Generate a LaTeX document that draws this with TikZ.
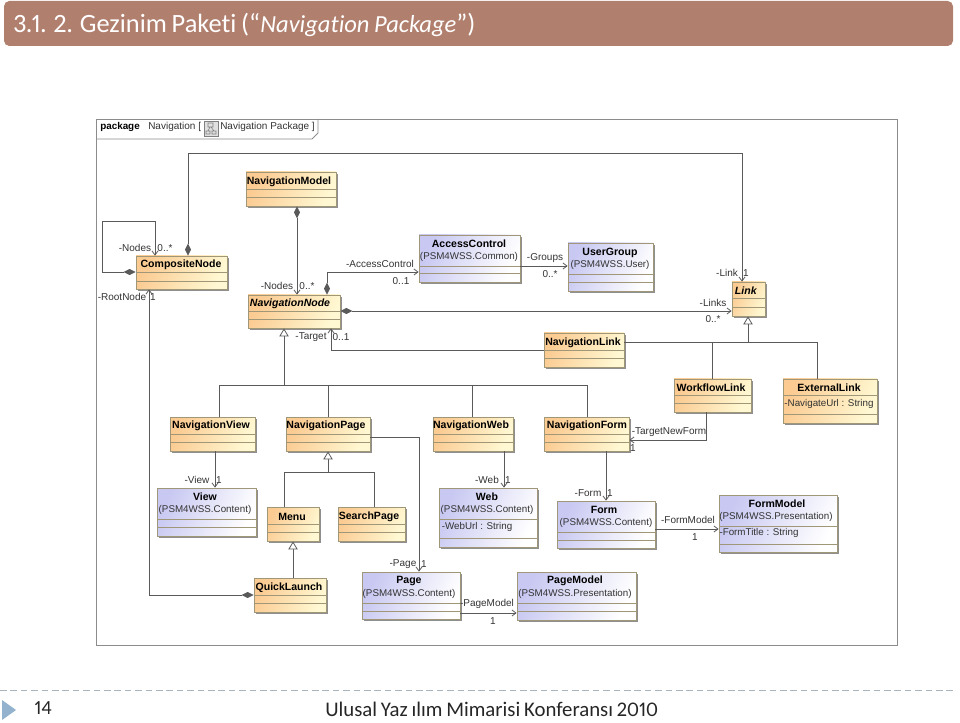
\documentclass[tikz,border=0pt]{standalone}
\usepackage{fontspec}
\setmainfont{Liberation Sans}
\newfontfamily\slidefont[Ligatures=NoCommon,WordSpace=.8,Numbers=Proportional]{Carlito}
\usetikzlibrary{calc,fit,arrows.meta,shadows}
\definecolor{barcolor}{HTML}{B17F6E}
\definecolor{linecolor}{HTML}{5A5A5A}
\definecolor{edgecolor}{HTML}{A09678}
\definecolor{orangecolor}{HTML}{FBCB92}
\definecolor{creamcolor}{HTML}{FFF8D2}
\definecolor{bluecolor}{HTML}{C8C8F2}
\definecolor{footercolor}{HTML}{92B2CE}
\definecolor{dashcolor}{HTML}{A9B4BC}
\tikzset{
  orangeclass/.style={draw=edgecolor,line width=.6pt,inner sep=0pt,left color=orangecolor,right color=creamcolor,shading angle=65,drop shadow={shadow xshift=1.2pt,shadow yshift=-1.2pt,fill=black!55,opacity=.8}},
  blueclass/.style={draw=edgecolor,line width=.6pt,inner sep=0pt,left color=bluecolor,right color=white,shading angle=65,drop shadow={shadow xshift=1.2pt,shadow yshift=-1.2pt,fill=black!55,opacity=.8}},
  classtitle/.style={inner sep=0pt,yshift=-.6pt,font=\fontsize{7.9}{9}\selectfont\bfseries,text=black},
  classtext/.style={inner sep=0pt,font=\fontsize{7.35}{9}\selectfont,text=black!80},
  lbl/.style={inner sep=0pt,font=\fontsize{7.5}{9}\selectfont,text=black!80},
  conn/.style={draw=linecolor,line width=.6pt},
  assoc/.style={conn,-{Straight Barb[length=3pt,width=4.5pt]}},
  compo/.style={conn,{Diamond[length=9pt,width=4.5pt,fill=linecolor]}-{Straight Barb[length=3pt,width=4.5pt]}},
  inherit/.style={conn,{Triangle[open,length=6pt,width=7pt,fill=white]}-}
}
% box with two compartment lines: name, x0, y0, x1, y1, line, line, style
\newcommand{\classbox}[8]{
  \node[#8,fit={(#2,#3) (#4,#5)}] (#1) {};
  \draw[edgecolor,line width=.5pt] (#2,#6) -- (#4,#6) (#2,#7) -- (#4,#7);
}
\begin{document}
\begin{tikzpicture}[x=.75pt,y=-.75pt]
  \useasboundingbox (0,0) rectangle (960,723);
  % title bar
  \fill[barcolor,rounded corners=4pt] (4,1) rectangle (953,46);
  \node[anchor=west,inner sep=0pt,text=white,font=\slidefont\fontsize{19.8}{22}\selectfont] (Title) at (13,25) {3.1. 2. Gezinim Paketi (“{\fontsize{18.4}{22}\selectfont\itshape Navigation Package}”)};
  % package frame
  \draw[black!45,line width=.7pt] (96,119) rectangle (897,645);
  \draw[black!45,line width=.6pt] (96,139) -- (312,139) -- (318,133) -- (318,119);
  \node[anchor=west,inner sep=0pt,font=\fontsize{7.4}{9}\selectfont\bfseries] (FrameKind) at (100,127) {package};
  \node[anchor=west,lbl] (FrameName) at (148,127) {Navigation [};
  \node[anchor=west,lbl] (FrameDiagram) at (220,127) {Navigation Package ]};
  \draw[black!50,fill=black!12,line width=.5pt] (204,121) rectangle (218,136);
  \draw[black!50,line width=.4pt] (208,123) rectangle (213,127) (206,131) rectangle (210,134) (212,131) rectangle (216,134) (210,127) -- (208,131) (211,127) -- (214,131);
  % top row
  \classbox{NavigationModel}{246}{172}{336}{206}{189}{197}{orangeclass}
  \classbox{CompositeNode}{136}{256}{227}{289}{272}{281}{orangeclass}
  \classbox{NavigationNode}{248}{295}{340}{328}{311}{319}{orangeclass}
  \classbox{AccessControl}{419}{235}{520}{282}{266}{273}{blueclass}
  \classbox{UserGroup}{568}{243}{653}{291}{274}{282}{blueclass}
  \classbox{Link}{732}{282}{765}{316}{298}{307}{orangeclass}
  % link classes
  \classbox{NavigationLink}{544}{333}{624}{367}{350}{358}{orangeclass}
  \classbox{WorkflowLink}{674}{379}{751}{412}{395}{403}{orangeclass}
  \classbox{ExternalLink}{783}{379}{877}{423}{395}{414}{orangeclass}
  % navigation classes
  \classbox{NavigationView}{170}{417}{255}{451}{434}{442}{orangeclass}
  \classbox{NavigationPage}{286}{417}{370}{451}{434}{442}{orangeclass}
  \classbox{NavigationWeb}{433}{417}{513}{451}{434}{442}{orangeclass}
  \classbox{NavigationForm}{544}{417}{629}{451}{434}{442}{orangeclass}
  % content classes
  \classbox{View}{157}{488}{256}{536}{519}{527}{blueclass}
  \classbox{Menu}{267}{507}{319}{541}{524}{532}{orangeclass}
  \classbox{SearchPage}{338}{507}{405}{541}{524}{532}{orangeclass}
  \classbox{Web}{439}{488}{537}{547}{519}{538}{blueclass}
  \classbox{Form}{557}{501}{655}{548}{532}{540}{blueclass}
  \classbox{FormModel}{719}{495}{837}{552}{526}{544}{blueclass}
  \classbox{QuickLaunch}{254}{578}{326}{612}{595}{603}{orangeclass}
  \classbox{Page}{362}{572}{460}{619}{603}{611}{blueclass}
  \classbox{PageModel}{517}{572}{636}{620}{603}{611}{blueclass}
  % class names
  \foreach \n/\x/\y/\txt in {NavigationModel/289/181/NavigationModel,CompositeNode/181/264/CompositeNode,Link/746/290/\textit{Link},NavigationNode/290/303/\textit{NavigationNode},AccessControl/469/243/AccessControl,UserGroup/610/252/UserGroup,NavigationLink/583/342/NavigationLink,WorkflowLink/711/387/WorkflowLink,ExternalLink/829/387/ExternalLink,NavigationView/211/425/NavigationView,NavigationPage/326/425/NavigationPage,NavigationWeb/471/425/NavigationWeb,NavigationForm/587/425/NavigationForm,View/205/496/View,Menu/292/516/Menu,SearchPage/369/516/SearchPage,Web/487/496/Web,Form/604/509/Form,FormModel/777/503/FormModel,QuickLaunch/289/587/QuickLaunch,Page/409/580/Page,PageModel/575/580/PageModel}
    \node[classtitle] (\n Name) at (\x,\y) {\txt};
  % stereotype lines and attributes
  \foreach \n/\x/\y/\txt in {pAccess/469/257/(PSM4WSS.Common),pGroup/610/265/(PSM4WSS.User),pView/205/510/(PSM4WSS.Content),pWeb/487/510/(PSM4WSS.Content),pForm/606/523/(PSM4WSS.Content),pFormModel/776/517/(PSM4WSS.Presentation),pPage/409/594/(PSM4WSS.Content),pPageModel/575/594/(PSM4WSS.Presentation),aNavigateUrl/829/404/-NavigateUrl : String,aWebUrl/477/527/-WebUrl : String,aFormTitle/759/533/-FormTitle : String}
    \node[classtext] (\n) at (\x,\y) {\txt};
  % associations
  \draw[compo] (CompositeNode.west |- 0,272) -- (102,272) -- (102,221) -- (155,221) -- (155,0 |- CompositeNode.north);
  \draw[compo] (188,0 |- CompositeNode.north) -- (188,153) -- (742,153) -- (742,0 |- Link.north);
  \draw[compo] (297,0 |- NavigationModel.south) -- (297,0 |- NavigationNode.north);
  \draw[compo] (327,0 |- NavigationNode.north) -- (327,272) -- (AccessControl.west |- 0,272);
  \draw[assoc] (AccessControl.east |- 0,266) -- (UserGroup.west |- 0,266);
  \draw[compo] (NavigationNode.east |- 0,311) -- (Link.west |- 0,311);
  \draw[assoc] (NavigationLink.west |- 0,350) -- (331,350) -- (331,0 |- NavigationNode.south);
  \draw[assoc] (706,0 |- WorkflowLink.south) -- (706,440) -- (NavigationForm.east |- 0,440);
  \draw[assoc] (215,0 |- NavigationView.south) -- (215,0 |- View.north);
  \draw[assoc] (NavigationPage.east |- 0,437) -- (419,437) -- (419,0 |- Page.north);
  \draw[assoc] (504,0 |- NavigationWeb.south) -- (504,0 |- Web.north);
  \draw[assoc] (606,0 |- NavigationForm.south) -- (606,0 |- Form.north);
  \draw[assoc] (Form.east |- 0,529) -- (FormModel.west |- 0,529);
  \draw[assoc] (Page.east |- 0,613) -- (PageModel.west |- 0,613);
  \draw[compo] (QuickLaunch.west |- 0,595) -- (149,595) -- (149,0 |- CompositeNode.south);
  % generalizations
  \coordinate (LinkBus) at (748,342);
  \draw[conn] (NavigationLink.east |- LinkBus) -- (817,342) -- (817,0 |- ExternalLink.north);
  \draw[conn] (712,342) -- (712,0 |- WorkflowLink.north);
  \draw[inherit] (748,0 |- Link.south) -- (LinkBus);
  \coordinate (NodeBus) at (284,385);
  \draw[conn] (219,0 |- NavigationView.north) -- (219,385) -- (587,385) -- (587,0 |- NavigationForm.north);
  \draw[conn] (328,385) -- (328,0 |- NavigationPage.north);
  \draw[conn] (472,385) -- (472,0 |- NavigationWeb.north);
  \draw[inherit] (284,0 |- NavigationNode.south) -- (NodeBus);
  \coordinate (PageBus) at (328,472);
  \draw[conn] (284,0 |- Menu.north) -- (284,472) -- (374,472) -- (374,0 |- SearchPage.north);
  \draw[inherit] (328,0 |- NavigationPage.south) -- (PageBus);
  \draw[inherit] (293,0 |- Menu.south) -- (293,0 |- QuickLaunch.north);
  % role names and multiplicities
  \foreach \n/\x/\y/\txt in {lNodesA/135/248/-Nodes,lNodesAm/165/248/0..*,lRoot/122/297/-RootNode,lRootm/153/297/1,lNodesB/277/286/-Nodes,lNodesBm/307/286/0..*,lTarget/311/337/-Target,lTargetm/341/337/0..1,lAccess/380/264/-AccessControl,lAccessm/401/281/0..1,lGroups/545/258/-Groups,lGroupsm/550/274/0..*,lLink/727/273/-Link,lLinkm/746/273/1,lLinks/713/303/-Links,lLinksm/713/319/0..*,lNewForm/669/432/-TargetNewForm,lNewFormm/633/448/1,lView/197/480/-View,lViewm/219/480/1,lPage/403/564/-Page,lPagem/424/564/1,lWeb/487/480/-Web,lWebm/508/480/1,lForm/588/493/-Form,lFormm/610/493/1,lFormModel/688/520/-FormModel,lFormModelm/695/537/1,lPageModel/487/604/-PageModel,lPageModelm/493/621/1}
    \node[lbl] (\n) at (\x,\y) {\txt};
  % footer
  \draw[dashcolor,line width=.7pt,dash pattern=on 5pt off 2.8pt] (0,690) -- (955,690);
  \fill[footercolor] (2,700) -- (16,710) -- (2,720) -- cycle;
  \node[inner sep=0pt,text=black!85,font=\slidefont\fontsize{15}{17}\selectfont] (PageNumber) at (43,708) {14};
  \node[anchor=west,inner sep=0pt,text=black!85,font=\slidefont\fontsize{15.6}{17}\selectfont] (Footer) at (325,709) {Ulusal Yaz ılım Mimarisi Konferansı 2010};
\end{tikzpicture}
\end{document}
